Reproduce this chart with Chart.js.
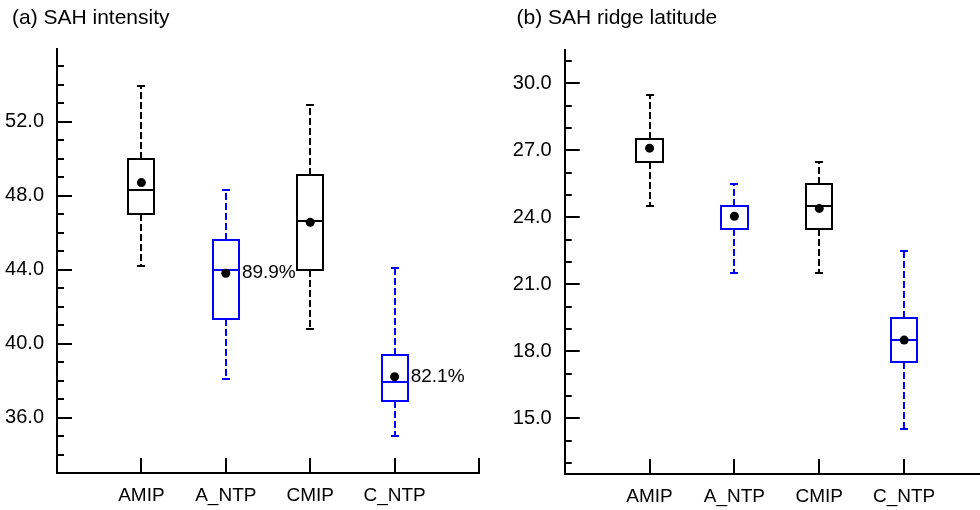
<!DOCTYPE html>
<html>
<head>
<meta charset="utf-8">
<script src="https://cdn.jsdelivr.net/npm/chart.js@4.4.1/dist/chart.umd.min.js"></script>
<style>
  body { margin: 0; background: #fff; }
  #wrap { position: relative; width: 980px; height: 510px; overflow: hidden; background: #fff; }
  #chartA { position: absolute; left: 0; top: 0; }
  #chartB { position: absolute; left: 490px; top: 0; }
</style>
</head>
<body>
<div id="wrap">
  <canvas id="chartA" width="490" height="510"></canvas>
  <canvas id="chartB" width="510" height="510"></canvas>
</div>
<script>
// categories and colours
const categories = ['AMIP', 'A_NTP', 'CMIP', 'C_NTP'];
const boxColors = ['#000000', '#0000ff', '#000000', '#0000ff'];

// (a) SAH intensity
const aLow    = [44.2, 38.1, 40.8, 35.0];
const aQ1     = [47.0, 41.3, 44.0, 36.9];
const aMedian = [48.3, 44.0, 46.6, 37.9];
const aQ3     = [50.0, 45.6, 49.1, 39.4];
const aHigh   = [53.9, 48.3, 52.9, 44.1];
const aMean   = [48.7, 43.8, 46.55, 38.2];
const aNotes  = ['', '89.9%', '', '82.1%'];
const aMajorTicks = [36, 40, 44, 48, 52];
const aMinorTicks = [34, 35, 36, 37, 38, 39, 40, 41, 42, 43, 44, 45, 46, 47, 48, 49, 50, 51, 52, 53, 54, 55];

// (b) SAH ridge latitude
const bLow    = [24.5, 21.5, 21.5, 14.5];
const bQ1     = [26.5, 23.5, 23.5, 17.5];
const bMedian = [27.5, 24.5, 24.5, 18.5];
const bQ3     = [27.5, 24.5, 25.5, 19.5];
const bHigh   = [29.5, 25.5, 26.5, 22.5];
const bMean   = [27.1, 24.05, 24.4, 18.5];
const bNotes  = ['', '', '', ''];
const bMajorTicks = [15, 18, 21, 24, 27, 30];
const bMinorTicks = [13, 14, 15, 16, 17, 18, 19, 20, 21, 22, 23, 24, 25, 26, 27, 28, 29, 30, 31];

const xTicks = [1, 2, 3, 4, 5];
const FONT = "'Liberation Sans', Arial, Helvetica, sans-serif";

// draws the boxes, whiskers, inward tick marks, notes and panel title
const boxPlugin = {
    id: 'boxes',
    beforeDatasetsDraw(chart) {
        const st = chart.options.plugins.boxes;
        const ctx = chart.ctx;
        const xs = chart.scales.x, ys = chart.scales.y;
        const px = v => Math.round(v);
        ctx.save();
        ctx.lineWidth = 2;
        for (let i = 0; i < categories.length; i++) {
            const xc = px(xs.getPixelForValue(i + 1));
            const xl = px(xs.getPixelForValue(i + 1 - 0.155));
            const xr = px(xs.getPixelForValue(i + 1 + 0.155));
            const cw = 4;
            const yLow = px(ys.getPixelForValue(st.low[i]));
            const yQ1 = px(ys.getPixelForValue(st.q1[i]));
            const yMed = px(ys.getPixelForValue(st.median[i]));
            const yQ3 = px(ys.getPixelForValue(st.q3[i]));
            const yHigh = px(ys.getPixelForValue(st.high[i]));
            ctx.strokeStyle = boxColors[i];

            // whiskers (dashed)
            ctx.setLineDash([7, 3]);
            ctx.beginPath();
            ctx.moveTo(xc, yQ3); ctx.lineTo(xc, yHigh);
            ctx.moveTo(xc, yQ1); ctx.lineTo(xc, yLow);
            ctx.stroke();
            ctx.setLineDash([]);

            // caps
            ctx.beginPath();
            ctx.moveTo(xc - cw, yHigh); ctx.lineTo(xc + cw, yHigh);
            ctx.moveTo(xc - cw, yLow); ctx.lineTo(xc + cw, yLow);
            ctx.stroke();

            // box + median
            ctx.strokeRect(xl, yQ3, xr - xl, yQ1 - yQ3);
            ctx.beginPath();
            ctx.moveTo(xl, yMed); ctx.lineTo(xr, yMed);
            ctx.stroke();
        }
        ctx.restore();
    },
    afterDatasetsDraw(chart) {
        const st = chart.options.plugins.boxes;
        const ctx = chart.ctx;
        const xs = chart.scales.x, ys = chart.scales.y;
        const area = chart.chartArea;
        ctx.save();
        ctx.strokeStyle = '#000';
        ctx.lineWidth = 2;
        ctx.beginPath();
        // y ticks pointing into the plot
        ys.ticks.forEach(t => {
            const y = Math.round(ys.getPixelForValue(t.value));
            const len = st.major.includes(t.value) ? 15 : 7;
            ctx.moveTo(area.left, y); ctx.lineTo(area.left + len, y);
        });
        // x ticks pointing up
        xs.ticks.forEach(t => {
            const x = Math.round(xs.getPixelForValue(t.value));
            ctx.moveTo(x, area.bottom); ctx.lineTo(x, area.bottom - 15);
        });
        ctx.stroke();

        // percentage notes
        ctx.fillStyle = '#000';
        ctx.font = '19px ' + FONT;
        ctx.textAlign = 'left';
        ctx.textBaseline = 'middle';
        st.notes.forEach((n, i) => {
            if (!n) return;
            const x = xs.getPixelForValue(i + 1 + 0.155) + 3;
            ctx.fillText(n, x, ys.getPixelForValue(st.mean[i]));
        });

        // panel title
        ctx.font = '21px ' + FONT;
        ctx.textBaseline = 'alphabetic';
        ctx.fillText(st.title, st.titleX, 24);
        ctx.restore();
    }
};

function makeChart(id, stats, padTop, padRight, yAxisWidth, xAxisHeight, yMin, yMax) {
    return new Chart(document.getElementById(id), {
        type: 'scatter',
        data: {
            datasets: [{
                data: stats.mean.map((m, i) => ({ x: i + 1, y: m })),
                pointRadius: 4.5,
                pointBackgroundColor: '#000',
                pointBorderWidth: 0,
                pointHoverRadius: 4.5
            }]
        },
        options: {
            responsive: false,
            animation: false,
            devicePixelRatio: 1,
            events: [],
            layout: { padding: { left: 0, right: padRight, top: padTop, bottom: 0 } },
            plugins: {
                legend: { display: false },
                tooltip: { enabled: false },
                title: { display: false },
                boxes: stats
            },
            scales: {
                x: {
                    type: 'linear',
                    min: 0,
                    max: 5,
                    afterFit: s => { s.height = xAxisHeight; },
                    afterBuildTicks: s => { s.ticks = xTicks.map(v => ({ value: v })); },
                    grid: { display: true, drawOnChartArea: false, drawTicks: false },
                    border: { display: true, color: '#000', width: 2 },
                    ticks: {
                        autoSkip: false,
                        maxRotation: 0,
                        padding: 11,
                        color: '#000',
                        font: { family: FONT, size: 19 },
                        callback: v => categories[v - 1] || ''
                    }
                },
                y: {
                    type: 'linear',
                    min: yMin,
                    max: yMax,
                    afterFit: s => { s.width = yAxisWidth; },
                    afterBuildTicks: s => { s.ticks = stats.minor.map(v => ({ value: v })); },
                    grid: { display: true, drawOnChartArea: false, drawTicks: false },
                    border: { display: true, color: '#000', width: 2 },
                    ticks: {
                        autoSkip: false,
                        padding: 13,
                        color: '#000',
                        font: { family: FONT, size: 20 },
                        callback: v => stats.major.includes(v) ? v.toFixed(1) : ''
                    }
                }
            }
        },
        plugins: [boxPlugin]
    });
}

makeChart('chartA', {
    title: '(a) SAH intensity', titleX: 12,
    low: aLow, q1: aQ1, median: aMedian, q3: aQ3, high: aHigh, mean: aMean,
    notes: aNotes, major: aMajorTicks, minor: aMinorTicks
}, 49, 9, 57, 37, 33, 55.92);

makeChart('chartB', {
    title: '(b) SAH ridge latitude', titleX: 26.5,
    low: bLow, q1: bQ1, median: bMedian, q3: bQ3, high: bHigh, mean: bMean,
    notes: bNotes, major: bMajorTicks, minor: bMinorTicks
}, 50, 10.6, 74.7, 36, 12.5, 31.5);
</script>
</body>
</html>
